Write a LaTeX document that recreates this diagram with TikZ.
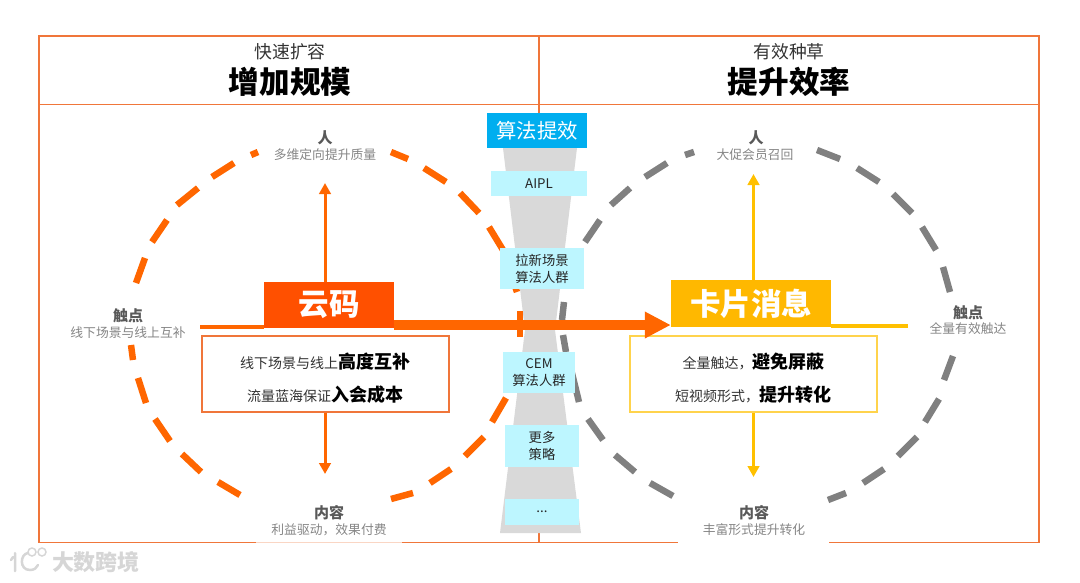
\documentclass[tikz,border=0pt]{standalone}
\usepackage{fontspec}
\setmainfont{Noto Sans CJK SC}
\usetikzlibrary{arrows.meta}
\definecolor{frameO}{HTML}{F0763A}
\definecolor{dashO}{HTML}{FF6600}
\definecolor{boxO}{HTML}{FF5000}
\definecolor{boxY}{HTML}{FFB800}
\definecolor{lineY}{HTML}{FFC000}
\definecolor{dashG}{HTML}{808080}
\definecolor{funnelG}{HTML}{D9D9D9}
\definecolor{algoB}{HTML}{00AEEF}
\definecolor{cyanB}{HTML}{BDF6FF}
\definecolor{labelD}{HTML}{595959}
\definecolor{labelL}{HTML}{858585}
\definecolor{wm}{HTML}{D6D6D6}
\newcommand{\fsz}[2]{\fontsize{#1}{#2}\selectfont}
\tikzset{
  frameline/.style={draw=frameO,line width=1.4pt},
  dashL/.style={draw=dashO,line width=6.5pt},
  dashR/.style={draw=dashG,line width=6.5pt},
  algobox/.style={fill=cyanB,inner sep=0pt,align=center,text=black!85,font=\fsz{13.3}{17}},
  headbox/.style={inner sep=0pt,text=white,font=\fsz{30.5}{32}\bfseries},
  smalltitle/.style={inner sep=0pt,text=black!80,font=\fsz{17.8}{20}},
  bigtitle/.style={inner sep=0pt,text=black,font=\fsz{30.6}{32}\bfseries},
  touchhead/.style={inner sep=0pt,text=labelD,font=\fsz{15}{17}\bfseries},
  touchsub/.style={inner sep=0pt,text=labelL,font=\fsz{12.8}{15}},
  textbox/.style={fill=white,line width=1.2pt,inner sep=0pt,minimum width=247pt,minimum height=76pt},
  boxline/.style={inner sep=0pt,text=black!80,font=\fsz{14}{18}},
  flowO/.style={draw=dashO,line width=3pt,-{Triangle[length=11pt,width=11.5pt]}},
  flowY/.style={draw=lineY,line width=3pt,-{Triangle[length=11pt,width=11.5pt]}},
}
\newcommand{\bd}[1]{{\fsz{18}{18}\bfseries\color{black} #1}}
\begin{document}
\begin{tikzpicture}[x=1pt,y=-1pt]
\useasboundingbox (0,0) rectangle (1080,582);
% frame
\draw[frameline] (39,36) rectangle (1039,542.5);
\draw[frameline] (39,104.5) -- (1039,104.5);
\draw[frameline] (539,36) -- (539,113);
\draw[frameline] (539,533) -- (539,542.5);
\draw[draw=white,line width=2.5pt] (678,542.5) -- (829,542.5);
\draw[draw=white,line width=2.5pt] (256,542.5) -- (402,542.5);
\draw[draw=frameO!30,line width=1pt] (256,542.5) -- (402,542.5);
% funnel
\fill[funnelG] (503,148) -- (577,148) -- (555,330) -- (581,533) -- (500,533) -- (525,330) -- cycle;
% dashed rings
\foreach \a/\b/\c/\d in {251/155/258/152,212/177/234/163,177/205/198/188,152/242/167/220,136/283/145/258,
  391/152/408/159,424/168/446/182,460/193/479/213,489/227/503/250,510/272/517/292,520/311/520/337,
  131/345/133/360,138/378/146/403,155/419/170/441,182/454/201/472,218/482/240/495,
  391/499/413/493,430/483/451/469,465/456/484/437,492/422/506/398}
  \draw[dashL] (\a,\b) -- (\c,\d);
\foreach \a/\b/\c/\d in {685/155/694/152,645/177/667/163,611/205/630/188,585/242/600/220,
  817/150/840/159,857/168/879/182,893/194/912/213,922/227/936/250,943/267/950/292,
  564/302/562/320,563/335/566/352,570/365/579/402,588/419/603/440,615/455/635/472,650/483/673/496,
  828/500/846/493,863/483/884/469,898/456/917/437,925/422/939/399,944/380/953/356}
  \draw[dashR] (\a,\b) -- (\c,\d);
% algorithm column
\node[fill=algoB,inner sep=0pt,minimum width=100pt,minimum height=35pt,text=white,font=\fsz{20.4}{22}] (algo) at (537,130.5) {算法提效};
\node[algobox,minimum width=96pt,minimum height=25pt] (aipl) at (539,183.5) {AIPL};
\node[algobox,minimum width=84pt,minimum height=41pt] (laxin) at (542,268.5) {拉新场景\\算法人群};
\node[algobox,minimum width=72pt,minimum height=41pt] (cem) at (539,372.5) {CEM\\算法人群};
\node[algobox,minimum width=74pt,minimum height=42pt] (more) at (542,446) {更多\\策略};
\node[algobox,minimum width=74pt,minimum height=26pt] (etc) at (542,512) {...};
% titles
\node[smalltitle] (tl) at (290,52) {快速扩容};
\node[bigtitle] (bl) at (290,82) {增加规模};
\node[smalltitle] (tr) at (789,52) {有效种草};
\node[bigtitle] (br) at (789,82) {提升效率};
% left labels
\node[touchhead] (lph) at (325,138) {人};
\node[touchsub] (lps) at (325,155) {多维定向提升质量};
\node[touchhead] (lth) at (128,316) {触点};
\node[touchsub] (lts) at (128,333) {线下场景与线上互补};
\node[touchhead] (lch) at (329,513) {内容};
\node[touchsub] (lcs) at (329,530) {利益驱动，效果付费};
% right labels
\node[touchhead] (rph) at (756,138) {人};
\node[touchsub] (rps) at (755,155) {大促会员召回};
\node[touchhead] (rth) at (968,313) {触点};
\node[touchsub] (rts) at (968,329) {全量有效触达};
\node[touchhead] (rch) at (754,513) {内容};
\node[touchsub] (rcs) at (754,530) {丰富形式提升转化};
% arrow anchors
\coordinate (lup) at (325,183);
\coordinate (ldn) at (325,474);
\coordinate (rup) at (753.5,174);
\coordinate (rdn) at (753.5,477);
\coordinate (lstart) at (200,327);
\coordinate (rend) at (908,326);
\coordinate (midy) at (0,325);
% head boxes
\node[fill=boxO,headbox,minimum width=130pt,minimum height=46pt] (yun) at (329,305) {云码};
\node[fill=boxY,headbox,minimum width=160pt,minimum height=47pt] (card) at (751,303.5) {卡片消息};
% text boxes
\node[textbox,draw=frameO] (ltb) at (325.5,374) {};
\node[textbox,draw=lineY!70] (rtb) at (753.5,374) {};
\node[boxline] (l1) at (325,362) {线下场景与线上\bd{高度互补}};
\node[boxline] (l2) at (325,395) {流量蓝海保证\bd{入会成本}};
\node[boxline] (r1) at (753.5,362) {全量触达，\bd{避免屏蔽}};
\node[boxline] (r2) at (753,395) {短视频形式，\bd{提升转化}};
% connectors
\draw[flowO] (lup |- yun.north) -- (lup);
\draw[flowO] (ldn |- ltb.south) -- (ldn);
\draw[flowY] (rup |- card.north) -- (rup);
\draw[flowY] (rdn |- rtb.south) -- (rdn);
\draw[draw=dashO,line width=3.5pt] (lstart) -- (lstart -| yun.west);
\draw[draw=lineY,line width=3.5pt] (rend -| card.east) -- (rend);
\draw[draw=dashO,line width=10pt,-{Triangle[length=26pt,width=25pt]}] (yun.east |- midy) -- (card.west |- midy);
% watermark
\draw[wm,line width=2.5pt,line cap=round] (13,557) -- (11,560) (15,553) -- (15,571);
\draw[wm,line width=2.5pt,line cap=round] (28,553) .. controls (20,554) and (19,570) .. (30,570) .. controls (34,570) and (37,568) .. (38,565);
\draw[wm,line width=1.5pt] (32,552) circle (4) (42,552) circle (4);
\node[inner sep=0pt,text=wm,font=\fsz{22}{24}\bfseries] (mark) at (96,562) {大数跨境};
\end{tikzpicture}
\end{document}
